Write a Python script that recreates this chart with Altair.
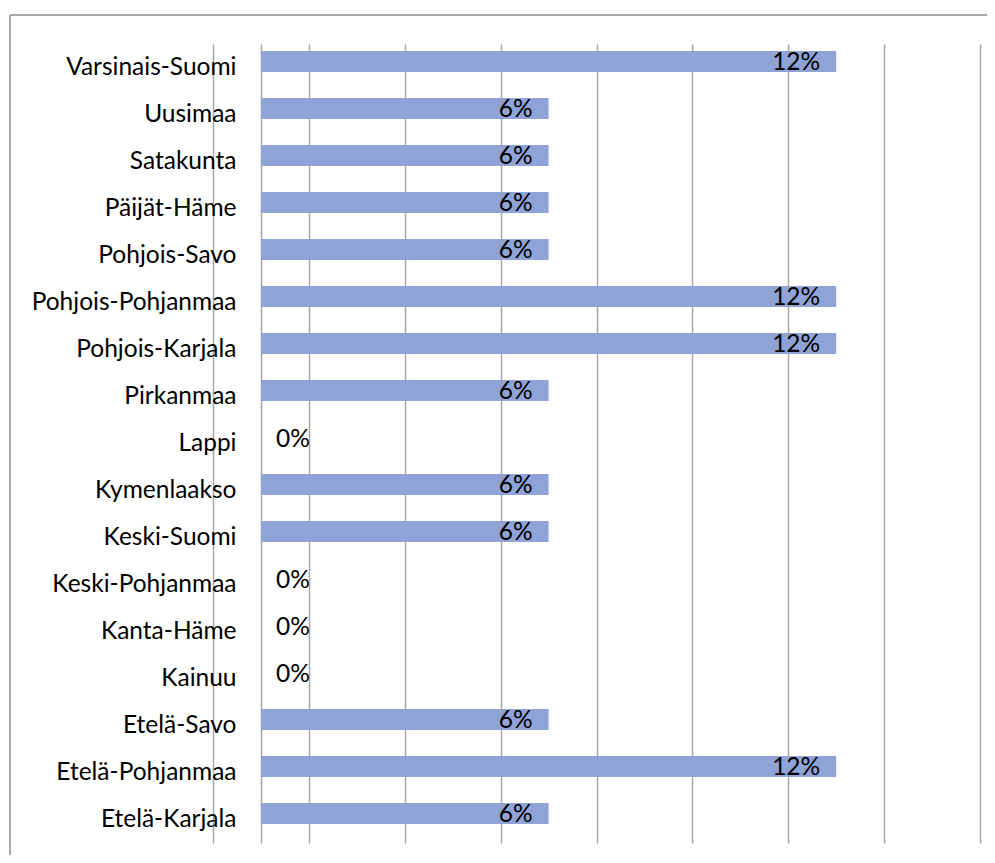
import altair as alt
import pandas as pd

regions = [
    "Varsinais-Suomi", "Uusimaa", "Satakunta", "Päijät-Häme", "Pohjois-Savo",
    "Pohjois-Pohjanmaa", "Pohjois-Karjala", "Pirkanmaa", "Lappi", "Kymenlaakso",
    "Keski-Suomi", "Keski-Pohjanmaa", "Kanta-Häme", "Kainuu", "Etelä-Savo",
    "Etelä-Pohjanmaa", "Etelä-Karjala",
]
values = [11.76, 5.88, 5.88, 5.88, 5.88, 11.76, 11.76, 5.88, 0, 5.88,
          5.88, 0, 0, 0, 5.88, 11.76, 5.88]
grid_values = [-0.98, 0, 0.98, 2.94, 4.90, 6.86, 8.82, 10.78, 12.74, 14.70]
x_domain = [-0.98, 14.70]

df = pd.DataFrame({"region": regions, "value": values})

FONT = "Lato"
FS = 24.5
BAR = "#8FA3D6"
GRID = "#a6a6a6"

y_enc = alt.Y(
    "region:N", sort=regions, title=None,
    scale=alt.Scale(paddingInner=0, paddingOuter=0),
    axis=alt.Axis(domain=False, ticks=False, tickSize=0, grid=False,
                  offset=-48, labelPadding=25, labelFontSize=FS,
                  labelFont=FONT, labelColor="#000000", labelLimit=400),
)
x_enc = alt.X(
    "value:Q", title=None,
    scale=alt.Scale(domain=x_domain, nice=False, zero=False),
    axis=alt.Axis(values=grid_values, labels=False, ticks=False, domain=False,
                  grid=True, gridColor=GRID, gridWidth=1.5, gridOpacity=1),
)

base = alt.Chart(df).encode(y=y_enc, x=x_enc)

bars = base.mark_bar(color=BAR, height=21, yOffset=-6)

labels_pos = base.transform_filter("datum.value > 0").transform_calculate(
    label="format(datum.value, '.0f') + '%'"
).mark_text(align="right", baseline="middle", dx=-16, dy=-5, font=FONT,
            fontSize=FS, color="#000000").encode(text="label:N")

labels_zero = base.transform_filter("datum.value == 0").transform_calculate(
    label="format(datum.value, '.0f') + '%'"
).mark_text(align="left", baseline="middle", dx=15, dy=-4, font=FONT,
            fontSize=FS, color="#000000").encode(text="label:N")

one = pd.DataFrame({"a": [0]})
border_top = alt.Chart(one).mark_rule(color="#8c8c8c", strokeWidth=1.5).encode(
    x=alt.value(-203), x2=alt.value(800), y=alt.value(-29))
border_left = alt.Chart(one).mark_rule(color="#8c8c8c", strokeWidth=1.5).encode(
    x=alt.value(-203), y=alt.value(-29), y2=alt.value(830))

chart = alt.layer(bars, labels_pos, labels_zero, border_top, border_left).properties(
    width=767, height=799,
    background="white",
    autosize=alt.AutoSizeParams(type="none"),
    padding={"left": 205, "top": 36, "right": 7, "bottom": 12},
).configure_view(stroke="transparent", strokeWidth=0)

chart.save("out.html", embed_options={"renderer": "svg", "actions": False})
